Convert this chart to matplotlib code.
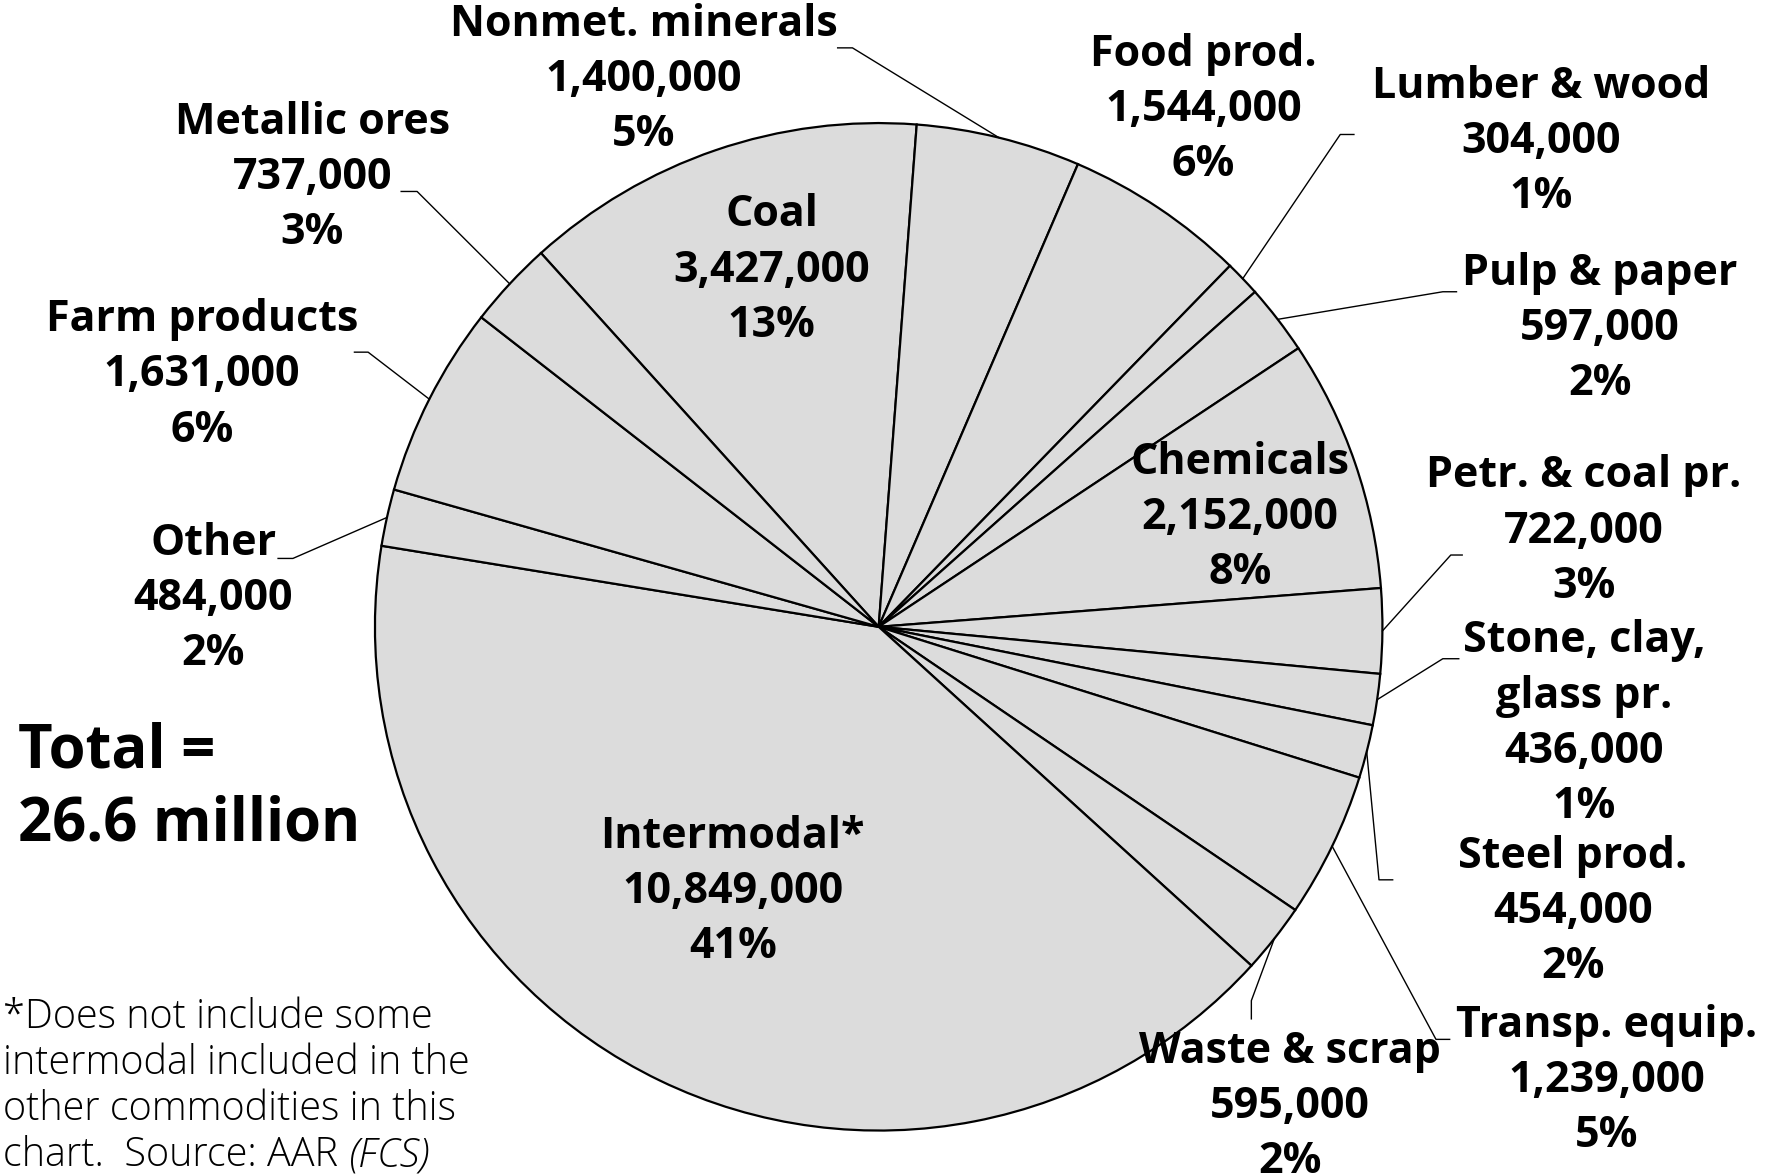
import numpy as np
import matplotlib.pyplot as plt

plt.rcParams['font.family'] = ['Open Sans', 'DejaVu Sans']

# carloads by commodity, clockwise from the top-left
categories = ['Coal', 'Nonmet. minerals', 'Food prod.', 'Lumber & wood', 'Pulp & paper',
              'Chemicals', 'Petr. & coal pr.', 'Stone, clay,\nglass pr.', 'Steel prod.',
              'Transp. equip.', 'Waste & scrap', 'Intermodal*', 'Other', 'Farm products',
              'Metallic ores']
carloads = [3427000, 1400000, 1544000, 304000, 597000, 2152000, 722000, 436000, 454000,
            1239000, 595000, 10849000, 484000, 1631000, 737000]
pct_shown = [13, 5, 6, 1, 2, 8, 3, 1, 2, 5, 2, 41, 2, 6, 3]
total_text = 'Total =\n26.6 million'

# layout in reference pixels (1568 x 1031, y down)
W, H = 1568, 1031
label_pos = {
    'Coal': (677, 237), 'Nonmet. minerals': (565, 70), 'Food prod.': (1056, 96),
    'Lumber & wood': (1352, 124), 'Pulp & paper': (1404, 288), 'Chemicals': (1088, 454),
    'Petr. & coal pr.': (1390, 466), 'Stone, clay,\nglass pr.': (1390, 635),
    'Steel prod.': (1380, 800), 'Transp. equip.': (1410, 948), 'Waste & scrap': (1132, 971),
    'Intermodal*': (643, 782), 'Other': (187, 525), 'Farm products': (177, 329),
    'Metallic ores': (274, 156),
}
leaders = {
    'Nonmet. minerals': [(735, 42), (748, 42)],
    'Metallic ores': [(352, 168), (366, 168)],
    'Farm products': [(311, 309), (323, 309)],
    'Other': [(244, 490), (257, 490)],
    'Lumber & wood': [(1188, 118), (1176, 118)],
    'Pulp & paper': [(1278, 256), (1266, 256)],
    'Petr. & coal pr.': [(1283, 487), (1273, 487)],
    'Stone, clay,\nglass pr.': [(1280, 578), (1266, 578)],
    'Steel prod.': [(1222, 772), (1210, 772)],
    'Transp. equip.': [(1272, 912), (1260, 912)],
    'Waste & scrap': [(1098, 894), (1098, 878)],
}

fig = plt.figure(figsize=(17.87, 11.75), dpi=100)
ax = fig.add_axes([0, 0, 1, 1])
cx, cy, r = 771, H - 550, 442
wedges, _ = ax.pie(carloads, startangle=132.1, counterclock=False, center=(cx, cy),
                   radius=r, colors=['#dcdcdc'] * len(carloads), frame=True,
                   wedgeprops=dict(edgecolor='black', linewidth=1.6))
ax.set_xlim(0, W)
ax.set_ylim(0, H)
ax.set_aspect('equal')
ax.axis('off')

for name, val, p, w in zip(categories, carloads, pct_shown, wedges):
    x, y = label_pos[name]
    ax.text(x, H - y, f'{name}\n{val:,}\n{p}%', ha='center', va='center',
            fontsize=31, fontweight='bold', linespacing=1.37, zorder=5)
    if name in leaders:
        mid = np.deg2rad((w.theta1 + w.theta2) / 2)
        ex, ey = cx + r * np.cos(mid), cy + r * np.sin(mid)
        pts = leaders[name]
        xs = [pt[0] for pt in pts] + [ex]
        ys = [H - pt[1] for pt in pts] + [ey]
        ax.plot(xs, ys, color='black', lw=1.0, zorder=4)

ax.text(16, H - 692, total_text, ha='left', va='center', fontsize=43,
        fontweight='bold', linespacing=1.27)

foot = ['*Does not include some', 'intermodal included in the',
        'other commodities in this']
for i, line in enumerate(foot):
    ax.text(3, H - (902 + i * 40.5), line, ha='left', va='baseline',
            fontsize=28.5, fontweight='light')
t = ax.text(3, H - (902 + 3 * 40.5), 'chart.  Source: AAR ', ha='left', va='baseline',
            fontsize=28.5, fontweight='light')
fig.canvas.draw()
bb = t.get_window_extent().transformed(ax.transData.inverted())
ax.text(bb.x1, H - (902 + 3 * 40.5), '(FCS)', ha='left', va='baseline',
        fontsize=28.5, fontweight='light', style='italic')

fig.savefig('out.png', dpi=100)
